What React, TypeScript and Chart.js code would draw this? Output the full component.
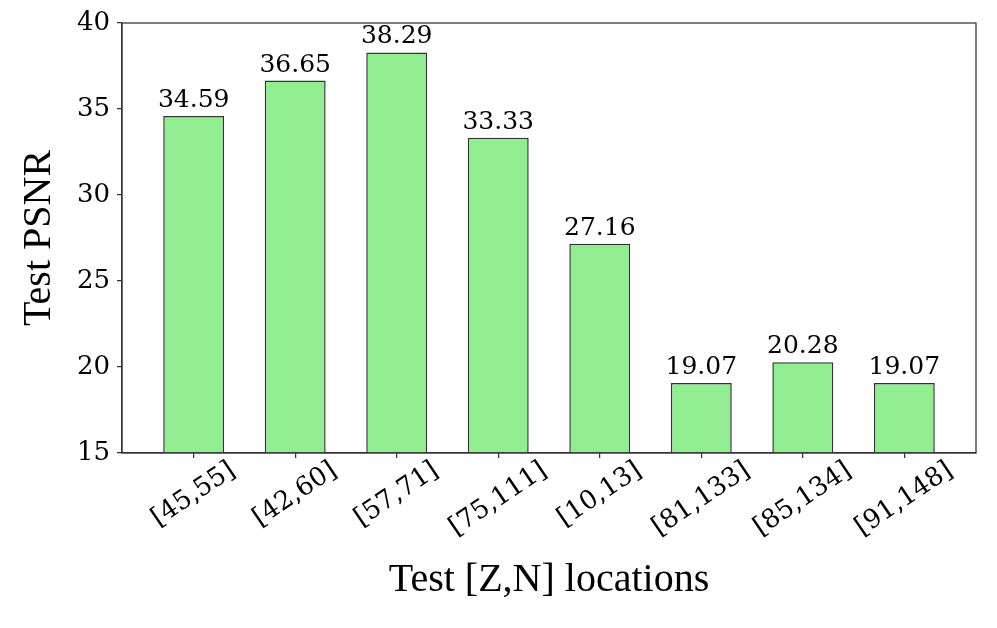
import React, { useEffect, useRef } from 'react';
import { Chart, registerables } from 'chart.js';

Chart.register(...registerables);

const CATEGORIES = ['[45,55]', '[42,60]', '[57,71]', '[75,111]', '[10,13]', '[81,133]', '[85,134]', '[91,148]'];
const PSNR = [34.59, 36.65, 38.29, 33.33, 27.16, 19.07, 20.28, 19.07];
const Y_TICKS = [15, 20, 25, 30, 35, 40];
const Y_MIN = 15;
const Y_MAX = 40;
const X_MIN = -0.706;
const X_MAX = 7.706;

const EDGE = '#333333';
const TICK_FONT = '"DejaVu Serif"';
const TITLE_FONT = '"Liberation Serif"';

const framePlugin = {
  id: 'frame',
  afterDraw(chart: any) {
    const { ctx, chartArea } = chart;
    ctx.save();
    ctx.strokeStyle = EDGE;
    ctx.lineWidth = 1.25;
    ctx.strokeRect(chartArea.left, chartArea.top, chartArea.right - chartArea.left, chartArea.bottom - chartArea.top);
    ctx.restore();
  },
};

const labelPlugin = {
  id: 'labels',
  afterDraw(chart: any) {
    const { ctx, chartArea } = chart;
    const meta = chart.getDatasetMeta(0);
    ctx.save();
    ctx.fillStyle = '#000';
    ctx.font = `25px ${TICK_FONT}`;
    ctx.textAlign = 'center';
    ctx.textBaseline = 'alphabetic';
    meta.data.forEach((bar: any, i: number) => {
      ctx.fillText(PSNR[i].toFixed(2), bar.x, bar.y - 9);
    });
    const xs = chart.scales.x;
    const ang = (34 * Math.PI) / 180;
    ctx.font = `26px ${TICK_FONT}`;
    CATEGORIES.forEach((lab, i) => {
      const px = xs.getPixelForValue(i);
      const w = ctx.measureText(lab).width;
      const h = 27;
      const H = w * Math.sin(ang) + h * Math.cos(ang);
      const cy = chartArea.bottom + 4 + H / 2;
      ctx.save();
      ctx.translate(px, cy);
      ctx.rotate(-ang);
      ctx.textAlign = 'center';
      ctx.textBaseline = 'middle';
      ctx.fillText(lab, 0, 0);
      ctx.restore();
    });
    ctx.restore();
  },
};

export default function App() {
  const ref = useRef<HTMLCanvasElement>(null);
  useEffect(() => {
    if (!ref.current) return;
    const chart = new Chart(ref.current, {
      type: 'bar',
      data: {
        datasets: [
          {
            data: PSNR.map((v, i) => ({ x: i, y: v })),
            backgroundColor: '#90EE90',
            borderColor: EDGE,
            borderWidth: 1.5,
            barPercentage: 0.6,
            categoryPercentage: 1,
            base: Y_MIN,
          } as any,
        ],
      },
      options: {
        responsive: false,
        animation: false,
        devicePixelRatio: 1,
        layout: { padding: { top: 23, right: 21, left: 0, bottom: 0 } },
        plugins: { legend: { display: false }, tooltip: { enabled: false } },
        scales: {
          x: {
            type: 'linear',
            min: X_MIN,
            max: X_MAX,
            offset: false,
            afterBuildTicks: (s: any) => {
              s.ticks = CATEGORIES.map((_, i) => ({ value: i }));
            },
            afterFit: (s: any) => {
              s.height = 175;
            },
            ticks: { display: false },
            grid: { offset: false, drawOnChartArea: false, drawTicks: true, tickLength: 5, color: EDGE, lineWidth: 1.25 },
            border: { display: true, color: EDGE, width: 1.25 },
            title: {
              display: true,
              text: 'Test [Z,N] locations',
              color: '#000',
              font: { family: TITLE_FONT, size: 40 },
              padding: { top: 0, bottom: 24 },
            },
          },
          y: {
            type: 'linear',
            min: Y_MIN,
            max: Y_MAX,
            afterBuildTicks: (s: any) => {
              s.ticks = Y_TICKS.map((v) => ({ value: v }));
            },
            afterFit: (s: any) => {
              s.width = 122;
            },
            ticks: { color: '#000', font: { family: TICK_FONT, size: 26 }, padding: 7 },
            grid: { drawOnChartArea: false, drawTicks: true, tickLength: 5, color: EDGE, lineWidth: 1.25 },
            border: { display: true, color: EDGE, width: 1.25 },
            title: {
              display: true,
              text: 'Test PSNR',
              color: '#000',
              font: { family: TITLE_FONT, size: 40 },
              padding: { top: 15, bottom: 0 },
            },
          },
        },
      } as any,
      plugins: [framePlugin, labelPlugin],
    });
    return () => chart.destroy();
  }, []);
  return (
    <div style={{ position: 'fixed', left: 0, top: 0, width: 997, height: 628, background: '#fff' }}>
      <canvas ref={ref} width={997} height={628} style={{ display: 'block', width: 997, height: 628 }} />
    </div>
  );
}
